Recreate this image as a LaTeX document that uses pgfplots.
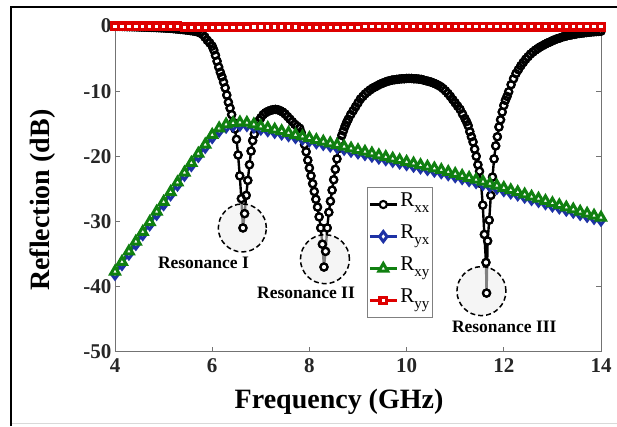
\documentclass[border=0pt]{standalone}
\usepackage{fontspec}
\setmainfont{Liberation Serif}
\usepackage{pgfplots}
\usepackage{pgfplotstable}
\pgfplotsset{compat=1.18}
\definecolor{cred}{RGB}{222,0,0}
\definecolor{cgreen}{RGB}{16,128,16}
\definecolor{cblue}{RGB}{30,50,165}

\pgfplotstableread{
f r
4.00 -0.05
4.05 -0.05
4.10 -0.06
4.15 -0.07
4.20 -0.08
4.25 -0.09
4.30 -0.10
4.35 -0.11
4.40 -0.12
4.45 -0.13
4.50 -0.15
4.55 -0.16
4.60 -0.17
4.65 -0.18
4.70 -0.20
4.75 -0.21
4.80 -0.22
4.85 -0.24
4.90 -0.26
4.95 -0.28
5.00 -0.30
5.05 -0.32
5.10 -0.34
5.15 -0.36
5.20 -0.40
5.25 -0.44
5.30 -0.48
5.35 -0.51
5.40 -0.55
5.45 -0.60
5.50 -0.65
5.55 -0.70
5.60 -0.75
5.65 -0.82
5.70 -0.90
5.75 -1.05
5.80 -1.30
5.85 -1.70
5.90 -2.20
5.95 -2.60
6.000 -3.1
6.033 -3.7
6.067 -4.5
6.100 -5.4
6.133 -6.3
6.167 -7.1
6.200 -7.8
6.233 -8.6
6.267 -9.5
6.300 -10.6
6.333 -11.7
6.367 -12.6
6.400 -13.6
6.433 -14.8
6.467 -15.8
6.500 -17.4
6.533 -19.8
6.567 -23.0
6.600 -26.5
6.633 -31.0
6.667 -28.8
6.700 -26.0
6.733 -23.7
6.767 -21.3
6.800 -19.2
6.833 -17.6
6.867 -16.6
6.900 -15.6
6.933 -15.0
6.967 -14.5
7.000 -14.1
7.05 -13.6
7.10 -13.3
7.15 -13.1
7.20 -12.95
7.25 -12.85
7.30 -12.8
7.35 -12.85
7.40 -13.0
7.45 -13.2
7.50 -13.5
7.55 -13.9
7.60 -14.3
7.65 -14.7
7.70 -15.1
7.75 -15.4
7.800 -15.7
7.833 -16.4
7.867 -17.2
7.900 -18.2
7.933 -19.3
7.967 -20.6
8.000 -21.8
8.033 -23.0
8.067 -24.2
8.100 -25.4
8.133 -26.6
8.167 -27.8
8.200 -29.3
8.233 -31.0
8.267 -33.5
8.300 -37.0
8.333 -34.6
8.367 -31.0
8.400 -28.6
8.433 -26.9
8.467 -25.2
8.500 -23.6
8.533 -22.0
8.567 -20.4
8.600 -18.8
8.633 -17.6
8.667 -16.8
8.700 -16.1
8.733 -15.4
8.767 -14.8
8.800 -14.3
8.85 -13.6
8.90 -13.0
8.95 -12.4
9.00 -11.8
9.05 -11.2
9.10 -10.8
9.15 -10.4
9.20 -10.1
9.25 -9.8
9.30 -9.55
9.35 -9.35
9.40 -9.15
9.45 -8.95
9.50 -8.8
9.55 -8.65
9.60 -8.5
9.65 -8.4
9.70 -8.3
9.75 -8.25
9.80 -8.2
9.85 -8.15
9.90 -8.1
9.95 -8.1
10.00 -8.05
10.05 -8.05
10.10 -8.05
10.15 -8.1
10.20 -8.1
10.25 -8.15
10.30 -8.2
10.35 -8.3
10.40 -8.4
10.45 -8.5
10.50 -8.6
10.55 -8.75
10.60 -8.9
10.65 -9.1
10.70 -9.3
10.75 -9.6
10.80 -9.95
10.85 -10.35
10.90 -10.8
10.95 -11.3
11.00 -11.8
11.05 -12.3
11.10 -12.8
11.15 -13.5
11.200 -14.2
11.233 -14.7
11.267 -15.3
11.300 -16.2
11.333 -17.0
11.367 -17.8
11.400 -18.9
11.433 -20.0
11.467 -21.3
11.500 -22.3
11.533 -24.2
11.567 -27.5
11.600 -32.0
11.633 -36.3
11.645 -41.0
11.667 -33.0
11.700 -29.8
11.733 -26.0
11.767 -23.2
11.800 -20.4
11.833 -18.4
11.867 -17.0
11.900 -15.5
11.933 -14.4
11.967 -13.2
12.000 -12.2
12.033 -11.4
12.067 -10.8
12.100 -10.1
12.15 -9.0
12.20 -8.1
12.25 -7.3
12.30 -6.7
12.35 -6.1
12.40 -5.6
12.45 -5.1
12.50 -4.7
12.55 -4.3
12.60 -4.0
12.65 -3.7
12.70 -3.45
12.75 -3.2
12.80 -3.0
12.85 -2.8
12.90 -2.6
12.95 -2.45
13.00 -2.25
13.05 -2.1
13.10 -1.95
13.15 -1.85
13.20 -1.7
13.25 -1.6
13.30 -1.5
13.35 -1.42
13.40 -1.35
13.45 -1.28
13.50 -1.2
13.55 -1.15
13.60 -1.1
13.65 -1.05
13.70 -1.0
13.75 -0.95
13.80 -0.92
13.85 -0.88
13.90 -0.85
13.95 -0.82
14.00 -0.8
}\tblX

\pgfplotstableread{
f g b r
4.000 -37.7 -38.05 -0.05
4.143 -36.2 -36.55 -0.05
4.286 -34.6 -34.95 -0.05
4.429 -33.1 -33.45 -0.05
4.571 -31.6 -31.95 -0.05
4.714 -30.1 -30.45 -0.05
4.857 -28.5 -28.85 -0.05
5.000 -27.0 -27.35 -0.05
5.143 -25.5 -25.85 -0.05
5.286 -24.0 -24.35 -0.05
5.429 -22.5 -22.85 -0.2
5.571 -21.0 -21.35 -0.2
5.714 -19.6 -19.95 -0.2
5.857 -18.2 -18.55 -0.2
6.000 -16.7 -17.05 -0.2
6.143 -15.7 -16.05 -0.2
6.286 -15.1 -15.45 -0.2
6.429 -14.9 -15.25 -0.2
6.571 -14.8 -15.15 -0.2
6.714 -14.85 -15.2 -0.2
6.857 -15.1 -15.45 -0.15
7.000 -15.4 -15.75 -0.15
7.143 -15.65 -16.0 -0.15
7.286 -15.9 -16.25 -0.15
7.429 -16.15 -16.5 -0.15
7.571 -16.4 -16.75 -0.15
7.714 -16.7 -17.05 -0.15
7.857 -16.95 -17.3 -0.2
8.000 -17.2 -17.55 -0.2
8.143 -17.5 -17.85 -0.2
8.286 -17.75 -18.1 -0.2
8.429 -18.0 -18.35 -0.2
8.571 -18.25 -18.6 -0.2
8.714 -18.5 -18.85 -0.2
8.857 -18.8 -19.15 -0.2
9.000 -19.05 -19.4 -0.2
9.143 -19.3 -19.65 -0.1
9.286 -19.55 -19.9 -0.1
9.429 -19.85 -20.2 -0.1
9.571 -20.1 -20.45 -0.1
9.714 -20.35 -20.7 -0.1
9.857 -20.6 -20.95 -0.1
10.000 -20.85 -21.2 -0.1
10.143 -21.1 -21.45 -0.1
10.286 -21.35 -21.7 -0.1
10.429 -21.6 -21.95 -0.1
10.571 -21.85 -22.2 -0.1
10.714 -22.1 -22.45 -0.1
10.857 -22.4 -22.75 -0.1
11.000 -22.7 -23.05 -0.1
11.143 -23.0 -23.35 -0.1
11.286 -23.3 -23.65 -0.1
11.429 -23.6 -23.95 -0.1
11.571 -23.9 -24.25 -0.1
11.714 -24.2 -24.55 -0.1
11.857 -24.5 -24.85 -0.1
12.000 -24.85 -25.2 -0.1
12.143 -25.2 -25.55 -0.1
12.286 -25.5 -25.85 -0.1
12.429 -25.85 -26.2 -0.1
12.571 -26.2 -26.55 -0.1
12.714 -26.5 -26.85 -0.1
12.857 -26.85 -27.2 -0.1
13.000 -27.2 -27.55 -0.1
13.143 -27.5 -27.85 -0.1
13.286 -27.85 -28.2 -0.1
13.429 -28.15 -28.5 -0.1
13.571 -28.5 -28.85 -0.1
13.714 -28.8 -29.15 -0.1
13.857 -29.1 -29.45 -0.1
14.000 -29.4 -29.75 -0.1
}\tblG

\begin{document}
\begin{tikzpicture}[x=1pt,y=1pt]
\path[use as bounding box] (0,0) rectangle (617,-426);
\fill[white] (0,0) rectangle (617,-426);
\draw[line width=2pt] (11,-426) -- (11,-7) -- (617,-7);
\draw[black!15,line width=1pt] (12,-423.5) -- (617,-423.5);
\begin{axis}[
  at={(115pt,-351.7pt)}, anchor=south west,
  width=486pt, height=325.7pt, scale only axis,
  xmin=4, xmax=14, ymin=-50, ymax=0,
  clip=false,
  axis line style={black!55, line width=0.8pt},
  tick style={black!55, line width=0.8pt},
  tick align=inside, major tick length=5pt,
  xtick={4,6,8,10,12,14}, xticklabels={4,6,8,10,12,14},
  ytick={-50,-40,-30,-20,-10,0}, yticklabels={-50,-40,-30,-20,-10,0},
  ticklabel style={font=\fontsize{21}{21}\selectfont\bfseries, text=black!85},
  xticklabel style={yshift=-3pt},
  xlabel={Frequency (GHz)}, ylabel={Reflection (dB)},
  label style={font=\fontsize{28}{28}\selectfont\bfseries},
  xlabel style={at={(axis description cs:0.461,-0.1729)}, anchor=base},
  ylabel style={at={(axis description cs:-0.148,0.465)}, anchor=center},
  legend style={at={(axis description cs:0.5185,0.505)}, anchor=north west,
    draw=black!50, line width=0.6pt, fill=white, inner sep=1pt,
    font=\fontsize{21}{21}\selectfont, row sep=0pt,
    nodes={inner xsep=2pt, inner ysep=4pt, text height=14pt, text depth=10pt}},
  legend cell align=left,
  legend image code/.code={\draw[mark repeat=2,mark phase=2,#1] plot coordinates {(0pt,0pt) (13.5pt,0pt) (27pt,0pt)};},
]
\addplot[black, line width=2.4pt, mark=*, mark size=3.6pt,
  mark options={solid, fill=white, draw=black, line width=2.1pt}] table[x=f,y=r]{\tblX};
\addlegendentry{R\raisebox{-6pt}{\fontsize{15}{15}\selectfont xx}}
\addplot[forget plot, only marks, mark=o, mark size=3.6pt,
  mark options={solid, draw=black, line width=2.1pt}] table[x=f,y=r]{\tblX};
\addplot[cblue, line width=2.4pt, mark=diamond*, mark size=5pt,
  mark options={solid, fill=white, draw=cblue, line width=3pt}] table[x=f,y=b]{\tblG};
\addlegendentry{R\raisebox{-6pt}{\fontsize{15}{15}\selectfont yx}}
\addplot[cgreen, line width=2.4pt, mark=triangle*, mark size=5pt,
  mark options={solid, fill=white, draw=cgreen, line width=3pt}] table[x=f,y=g]{\tblG};
\addlegendentry{R\raisebox{-6pt}{\fontsize{15}{15}\selectfont xy}}
\addplot[cred, line width=3pt, mark=square*, mark size=3.3pt,
  mark options={solid, fill=white, draw=cred, line width=3.2pt}] table[x=f,y=r]{\tblG};
\addlegendentry{R\raisebox{-6pt}{\fontsize{15}{15}\selectfont yy}}

\draw[dash pattern=on 5pt off 3pt, line width=1.5pt, fill=white!93!black, fill opacity=0.54]
  (axis cs:6.62,-31.0) circle[radius=24pt];
\draw[dash pattern=on 5pt off 3pt, line width=1.5pt, fill=white!93!black, fill opacity=0.54]
  (axis cs:8.32,-35.8) circle[radius=24.5pt];
\draw[dash pattern=on 5pt off 3pt, line width=1.5pt, fill=white!93!black, fill opacity=0.54]
  (axis cs:11.54,-40.7) circle[radius=24.5pt];
\node[font=\fontsize{17.5}{17.5}\selectfont\bfseries, anchor=base] at (axis cs:5.82,-37.3) {Resonance I};
\node[font=\fontsize{17.5}{17.5}\selectfont\bfseries, anchor=base] at (axis cs:7.93,-41.9) {Resonance II};
\node[font=\fontsize{17.5}{17.5}\selectfont\bfseries, anchor=base] at (axis cs:12.01,-47.1) {Resonance III};
\end{axis}
\end{tikzpicture}
\end{document}
